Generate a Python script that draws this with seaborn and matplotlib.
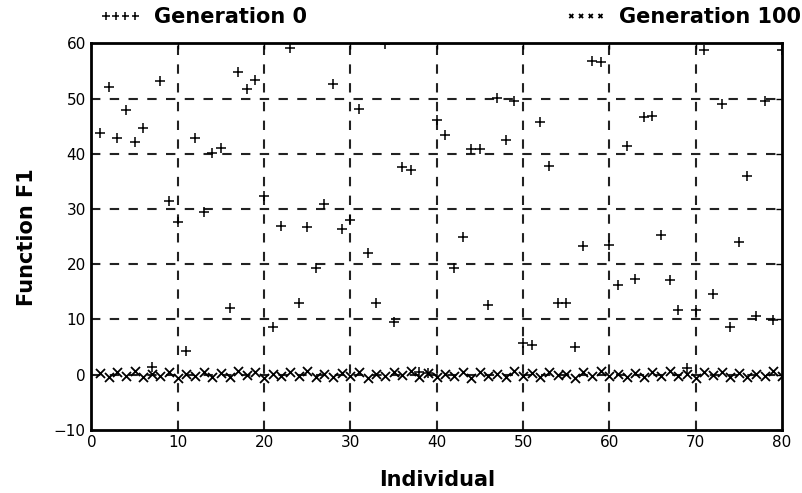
import matplotlib
matplotlib.use("Agg")
import matplotlib.pyplot as plt
import seaborn as sns
import pandas as pd
from matplotlib.font_manager import FontProperties

individual = list(range(1, 81))
gen0 = [43.8, 52.1, 42.9, 48.0, 42.2, 44.6, 1.4, 53.1, 31.5, 27.7,
        4.2, 42.8, 29.4, 40.1, 41.0, 12.1, 54.8, 51.7, 53.4, 32.4,
        8.7, 27.0, 59.1, 13.0, 26.8, 19.3, 30.9, 52.7, 26.3, 28.1,
        48.1, 22.0, 12.9, 59.9, 9.6, 37.7, 37.0, 0.5, 0.3, 46.1,
        43.4, 19.3, 25.0, 40.9, 40.9, 12.6, 50.1, 42.5, 49.6, 5.8,
        5.3, 45.8, 37.8, 12.9, 12.9, 5.1, 23.3, 56.9, 56.7, 23.5,
        16.3, 41.4, 17.3, 46.6, 46.9, 25.3, 17.2, 11.7, 1.2, 11.7,
        58.8, 14.7, 49.0, 8.6, 24.0, 36.0, 10.6, 49.6, 9.9, 58.8]
gen100 = [0.3, -0.4, 0.5, -0.2, 0.6, -0.5, 0.2, -0.3, 0.4, -0.6,
          0.1, -0.2, 0.5, -0.4, 0.3, -0.5, 0.6, -0.1, 0.4, -0.6,
          0.2, -0.3, 0.5, -0.2, 0.6, -0.4, 0.1, -0.5, 0.3, -0.2,
          0.5, -0.6, 0.2, -0.3, 0.4, -0.1, 0.6, -0.4, 0.3, -0.5,
          0.2, -0.2, 0.5, -0.6, 0.4, -0.3, 0.1, -0.5, 0.6, -0.2,
          0.3, -0.4, 0.5, -0.1, 0.2, -0.6, 0.4, -0.3, 0.6, -0.2,
          0.1, -0.5, 0.3, -0.4, 0.5, -0.2, 0.6, -0.3, 0.2, -0.6,
          0.4, -0.1, 0.5, -0.4, 0.3, -0.5, 0.2, -0.3, 0.6, -0.2]
series_labels = ["Generation 0", "Generation 100"]
x_ticks = list(range(0, 81, 10))
y_ticks = list(range(-10, 61, 10))

sns.set_theme(style="white")
plt.rcParams['font.family'] = ['DejaVu Sans']
plt.rcParams['text.color'] = 'black'
plt.rcParams['axes.labelcolor'] = 'black'

df0 = pd.DataFrame({"Individual": individual, "F1": gen0})
df1 = pd.DataFrame({"Individual": individual, "F1": gen100})

fig = plt.figure(figsize=(8.02, 4.93), dpi=100)
ax = fig.add_axes([0.114, 0.128, 0.861, 0.784])

for xv in x_ticks[1:-1]:
    ax.axvline(xv, color="#222222", lw=1.5, ls=(0, (4.5, 4.5)), zorder=0)
for yv in y_ticks[1:-1]:
    ax.axhline(yv, color="#222222", lw=1.5, ls=(0, (4.5, 4.5)), zorder=0)

sns.scatterplot(data=df1, x="Individual", y="F1", marker="x", s=42,
                color="black", linewidth=1.3, ax=ax, label=series_labels[1])
sns.scatterplot(data=df0, x="Individual", y="F1", marker="+", s=55,
                color="black", linewidth=1.1, ax=ax, label=series_labels[0])

ax.set_xlim(0, 80)
ax.set_ylim(-10, 60)
ax.set_xticks(x_ticks)
ax.set_yticks(y_ticks)
ax.tick_params(direction="in", length=4, width=1, top=True, right=True,
               labelsize=11, colors="black", pad=4)
for sp in ax.spines.values():
    sp.set_linewidth(2)
    sp.set_color("black")

label_font = dict(family=['Liberation Sans Narrow', 'DejaVu Sans'],
                  weight='bold', size=15, color='black')
ax.set_xlabel("Individual", fontdict=label_font, labelpad=14)
ax.set_ylabel("Function F1", fontdict=label_font, labelpad=12)

handles, labels = ax.get_legend_handles_labels()
hmap = dict(zip(labels, handles))
if ax.legend_:
    ax.legend_.remove()
fp = FontProperties(family=['Liberation Sans Narrow', 'DejaVu Sans'],
                    weight='bold', size=15)
leg1 = ax.legend([hmap[series_labels[0]]], [series_labels[0]],
                 scatterpoints=4, scatteryoffsets=[0.5], loc="lower left",
                 bbox_to_anchor=(0.0, 1.02), frameon=False, prop=fp,
                 handletextpad=0.6, borderaxespad=0, markerscale=0.7)
ax.add_artist(leg1)
leg2 = ax.legend([hmap[series_labels[1]]], [series_labels[1]],
                 scatterpoints=4, scatteryoffsets=[0.5], loc="lower right",
                 bbox_to_anchor=(1.04, 1.02), frameon=False, prop=fp,
                 handletextpad=0.6, borderaxespad=0, markerscale=0.45)

fig.savefig("out.png", dpi=100)
